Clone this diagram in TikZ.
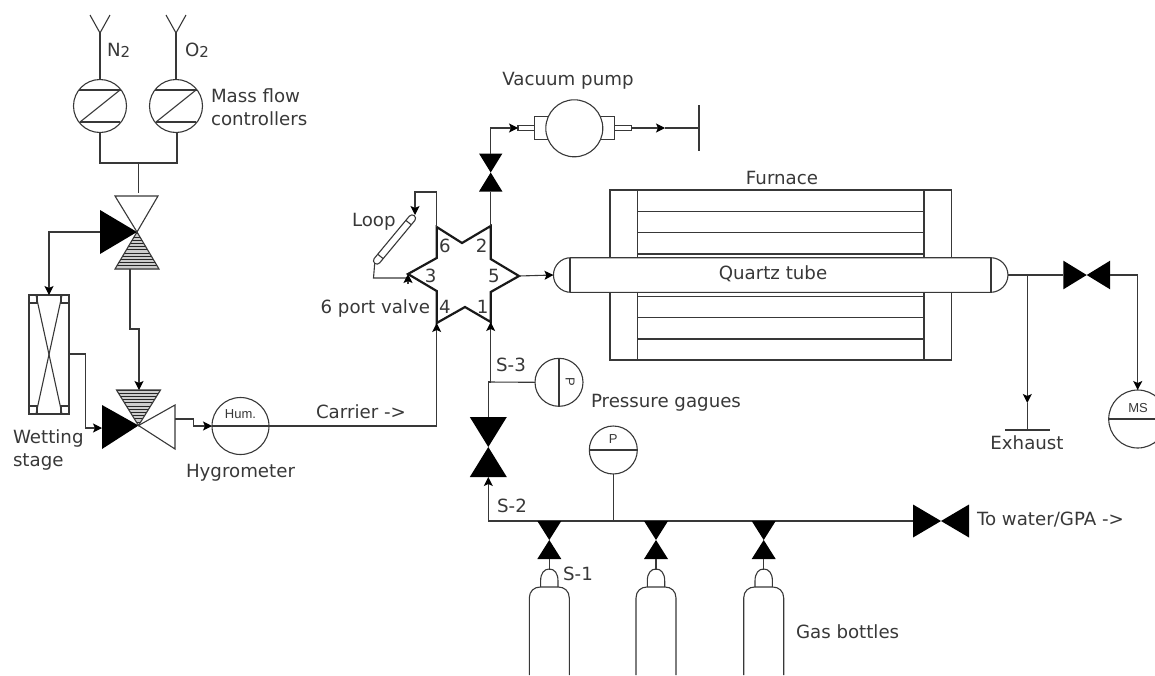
\documentclass[tikz,border=0pt]{standalone}
\usepackage{fontspec}
\setmainfont{DejaVu Sans}
\newfontfamily\smallsans{Liberation Sans}
\usetikzlibrary{calc,arrows.meta,shapes.misc}

\definecolor{ink}{HTML}{383838}

\tikzset{
  pipe/.style={ink,line width=1.1pt,line join=miter},
  flow/.style={pipe,-{Stealth[length=9pt,width=9pt,inset=2pt,color=black]}},
  dial/.style={circle,draw=ink,line width=1.1pt,fill=white,inner sep=0,outer sep=0},
  lab/.style={font=\fontsize{18.2}{23}\selectfont,text=ink,inner sep=0,outer sep=0},
  tiny/.style={font=\smallsans\fontsize{13}{15}\selectfont,text=ink,inner sep=0,outer sep=0},
  vbow/.style 2 args={minimum width=#1,minimum height=#2,inner sep=0,outer sep=0,path picture={
    \fill[black] (path picture bounding box.north west) -- (path picture bounding box.south east) -- (path picture bounding box.south west) -- (path picture bounding box.north east) -- cycle;}},
  hbow/.style 2 args={minimum width=#1,minimum height=#2,inner sep=0,outer sep=0,path picture={
    \fill[black] (path picture bounding box.north west) -- (path picture bounding box.south east) -- (path picture bounding box.north east) -- (path picture bounding box.south west) -- cycle;}},
}

\newcommand{\stripetri}[4]{
  \begin{scope}
  \clip (#1,#2) -- (#1-22,#3) -- (#1+22,#3) -- cycle;
  \fill[gray!40] (#1-22,#2) rectangle (#1+22,#3);
  \foreach \k in {0,...,11} \draw[black!85,line width=.9pt] (#1-22,#3-\k*#4) -- (#1+22,#3-\k*#4);
  \end{scope}
  \draw[pipe] (#1,#2) -- (#1-22,#3) -- (#1+22,#3) -- cycle;
}

\begin{document}
\begin{tikzpicture}[x=1pt,y=-1pt]

\useasboundingbox (0,0) rectangle (1155,675);
\clip (0,0) rectangle (1155,675);

% mass flow controllers
\foreach \x/\n in {100/mfcn,176/mfco} {
  \node [dial,minimum size=53pt] (\n) at (\x,106) {};
  \draw [pipe] (\x-10,15) -- (\x,33) -- (\x+10,15);
  \draw [pipe] (\x,33) -- (\n.north);
  \draw [pipe] (\x-21,90) -- (\x+21,90);
  \draw [pipe] (\x-20,122) -- (\x+20,122);
  \draw [pipe] (\x-20,122) -- (\x+20,90);
}

\node [lab,anchor=west] (ntwo) at (107,50) {N\raisebox{-1pt}{\fontsize{15}{15}\selectfont 2}};
\node [lab,anchor=west] (otwo) at (185,50) {O\raisebox{-1pt}{\fontsize{15}{15}\selectfont 2}};
\node [lab,anchor=west,align=left] (mfclab) at (211,107) {Mass flow\\controllers};

\coordinate (mixin) at (138.5,193);
\draw [pipe] (mfcn.south) -- (100,163) -- (177,163) -- (177,132);
\draw [pipe] (138.5,163) -- (mixin);

% upper three way valve
\coordinate (topc) at (137,232);
\coordinate (topl) at (100,232);
\coordinate (tops) at (130,269);
\fill [black] (100,210) -- (topc) -- (100,254) -- cycle;
\draw [pipe,fill=white] (115,196) -- (158,196) -- (topc) -- cycle;
\stripetri{137}{232}{269}{3.2}

% wetting stage
\coordinate (wetin) at (49,295);
\coordinate (wetout) at (69,354);
\draw [pipe] (29,295) rectangle (69,414);
\draw [pipe] (37,295) -- (37,303) -- (29,303);
\draw [pipe] (61,295) -- (61,303) -- (69,303);
\draw [pipe] (29,406) -- (37,406) -- (37,414);
\draw [pipe] (69,406) -- (61,406) -- (61,414);
\draw [pipe] (36,295) -- (62,414);
\draw [pipe] (62,295) -- (36,414);
\draw [flow] (topl) -- (49,232) -- (wetin);
\node [lab,anchor=north west,align=left] (wetlab) at (13,430) {Wetting\\stage};

% lower three way valve
\coordinate (lowc) at (138.5,425.5);
\coordinate (lowin) at (139,390);
\coordinate (lowl) at (102,428);
\coordinate (lowr) at (175,419);
\fill [black] (102,405) -- (lowc) -- (102,449) -- cycle;
\draw [pipe,fill=white] (175,405) -- (lowc) -- (175,449) -- cycle;
\stripetri{138.5}{425.5}{390}{-3.2}
\draw [flow] (tops) -- (130,329) -- (139,329) -- (lowin);
\draw [flow] (wetout) -- (85.5,354) -- (85.5,428) -- (lowl);

% hygrometer
\node [dial,minimum size=57pt] (hygro) at (240.5,426) {};
\node [tiny] (humlab) at (240.5,414) {Hum.};
\node [lab,anchor=west] (hygrolab) at (186,473) {Hygrometer};
\draw [flow] (lowr) -- (193.5,419) -- (193.5,426) -- (hygro.west);
\node [lab,anchor=west] (carrier) at (316,412) {Carrier ->};

% six port valve
\coordinate (six) at (436.7,227);
\coordinate (two) at (490.7,226);
\coordinate (five) at (519,276);
\coordinate (one) at (490.7,322);
\coordinate (four) at (436.7,323);
\coordinate (three) at (408,274);
\draw [black!90,line width=2.2pt,miter limit=10] (six) -- (462,243) -- (two) -- (490.7,259) -- (five) -- (490.7,292) -- (one) -- (465,307) -- (four) -- (436.7,291) -- (three) -- (436.7,258) -- cycle;
\draw [pipe] (hygro.west) -- (436.7,426);
\draw [flow] (436.7,426) -- (four);
\node [lab] (nsix) at (445,246) {6};
\node [lab] (ntwoport) at (481.7,246) {2};
\node [lab] (nthree) at (430.7,276) {3};
\node [lab] (nfive) at (494,276) {5};
\node [lab] (nfour) at (445,307) {4};
\node [lab] (none) at (482.7,307) {1};
\node [lab,anchor=east] (sixlab) at (430,308) {6 port valve};

% loop
\node [rounded rectangle,draw=ink,line width=1.1pt,fill=white,minimum width=62pt,minimum height=7pt,inner sep=0,outer sep=0,rotate=50.3] (loopt) at (394.5,239.5) {};
\draw [pipe] ($(loopt.north east)!.1!(loopt.north west)$) -- ($(loopt.south east)!.1!(loopt.south west)$);
\draw [pipe] ($(loopt.north west)!.1!(loopt.north east)$) -- ($(loopt.south west)!.1!(loopt.south east)$);
\draw [flow] (six) -- (436.7,192) -- (415,192) -- (415,215);
\draw [pipe] (loopt.west) -- (373.5,278) -- (408,278);
\draw [flow] (408,284) -- (three);
\node [lab,anchor=west] (looplab) at (352,222) {Loop};

% vacuum pump
\node [vbow={23.4pt}{38pt}] (vacv) at (490.7,172.5) {};
\draw [pipe] (two) -- (vacv.south);
\coordinate (pumpin) at (518,128);
\coordinate (pumpout) at (631.7,128);
\coordinate (pumpmid) at (665,128);
\coordinate (pumpend) at (699,128);
\draw [pipe] (518,125.7) rectangle (534.3,130.7);
\draw [pipe] (614.3,125.7) rectangle (631.7,130.7);
\draw [pipe] (534.3,116.7) rectangle (614.3,139.3);
\node [dial,minimum size=57pt] (pump) at (574.3,128.3) {};
\draw [flow] (vacv.north) -- (490.7,128) -- (pumpin);
\draw [flow] (pumpout) -- (pumpmid);
\draw [pipe] (pumpmid) -- (pumpend);
\draw [pipe] (699,105) -- (699,151);
\node [lab] (pumplab) at (568,81) {Vacuum pump};

% furnace and tube
\draw [pipe] (610,190) rectangle (951.3,360);
\draw [pipe] (637.7,190) -- (637.7,360);
\draw [pipe] (924,190) -- (924,360);
\foreach \y in {211.3,232.7,254,296.7,317.7,339} \draw [pipe] (637.7,\y) -- (924,\y);
\node [rounded rectangle,draw=ink,line width=1.1pt,fill=white,minimum width=454.5pt,minimum height=34.6pt,inner sep=0,outer sep=0] (tube) at (780.7,275) {};
\draw [pipe] (570,257.7) -- (570,292.3);
\draw [pipe] (991,257.7) -- (991,292.3);
\node [lab] (tubelab) at (773,274) {Quartz tube};
\node [lab] (furnlab) at (782,177.5) {Furnace};
\draw [flow] (five) -- (tube.west);

% outlet
\node [hbow={46.7pt}{28.6pt}] (msv) at (1086.7,275) {};
\coordinate (exj) at (1027.3,275);
\coordinate (exm) at (1027.3,403);
\coordinate (exb) at (1027.3,430);
\draw [pipe] (tube.east) -- (msv.west);
\draw [flow] (exj) -- (exm);
\draw [pipe] (exm) -- (exb);
\draw [pipe] (1005,430) -- (1050,430);
\node [lab] (exlab) at (1027,443) {Exhaust};
\node [dial,minimum size=58pt] (ms) at (1137.7,419) {};
\draw [pipe] (1108.7,419) -- (1166.7,419);
\node [tiny] (mslab) at (1138,407.7) {MS};
\draw [flow] (msv.east) -- (1137.7,275) -- (ms.north);

% gas line
\node [vbow={37pt}{60pt}] (mainv) at (488.3,447) {};
\node [hbow={56pt}{33pt}] (waterv) at (941,521) {};
\coordinate (gasj) at (488.3,521);
\draw [flow] (gasj) -- (mainv.south);
\draw [pipe] (gasj) -- (waterv.west);
\coordinate (gaugej) at (488.3,382);
\draw [pipe] (mainv.north) -- (gaugej) -- (490.7,382);
\draw [flow] (490.7,382) -- (one);

\node [dial,minimum size=48pt] (gaugea) at (559,382.3) {};
\draw [pipe] (gaugea.north) -- (gaugea.south);
\node [tiny,rotate=-90] (gaugealab) at (570,382.3) {P};
\draw [pipe] (gaugej) -- (gaugea.west);

\node [dial,minimum size=48pt] (gaugeb) at (613.3,450) {};
\draw [pipe] (gaugeb.west) -- (gaugeb.east);
\node [tiny] (gaugeblab) at (613.3,439) {P};
\coordinate (gaugebj) at (613.3,521);
\draw [pipe] (gaugeb.south) -- (gaugebj);

\foreach \x/\n in {549.3/bota,656/botb,763.7/botc} {
  \node [vbow={24pt}{38pt}] (\n) at (\x,540) {};
  \coordinate (\n neck) at (\x,570);
  \draw [pipe] (\n.south) -- (\n neck);
  \draw [pipe] (\x-8.7,587) -- (\x-8.7,581) .. controls (\x-8.7,573) and (\x-5,569) .. (\x,569) .. controls (\x+5,569) and (\x+8.7,573) .. (\x+8.7,581) -- (\x+8.7,587);
  \draw [pipe] (\x-20,675) -- (\x-20,598) .. controls (\x-20,591) and (\x-15,587) .. (\x-9,587) -- (\x+9,587) .. controls (\x+15,587) and (\x+20,591) .. (\x+20,598) -- (\x+20,675);
}

\node [lab] (sthree) at (511,365) {S-3};
\node [lab] (stwo) at (512,505.7) {S-2};
\node [lab] (sone) at (578,574) {S-1};
\node [lab,anchor=west] (gaugelab) at (591,403) {Pressure gagues};
\node [lab,anchor=west] (gaslab) at (796,632) {Gas bottles};
\node [lab,anchor=west] (waterlab) at (977,520) {To water/GPA ->};

\end{tikzpicture}
\end{document}
